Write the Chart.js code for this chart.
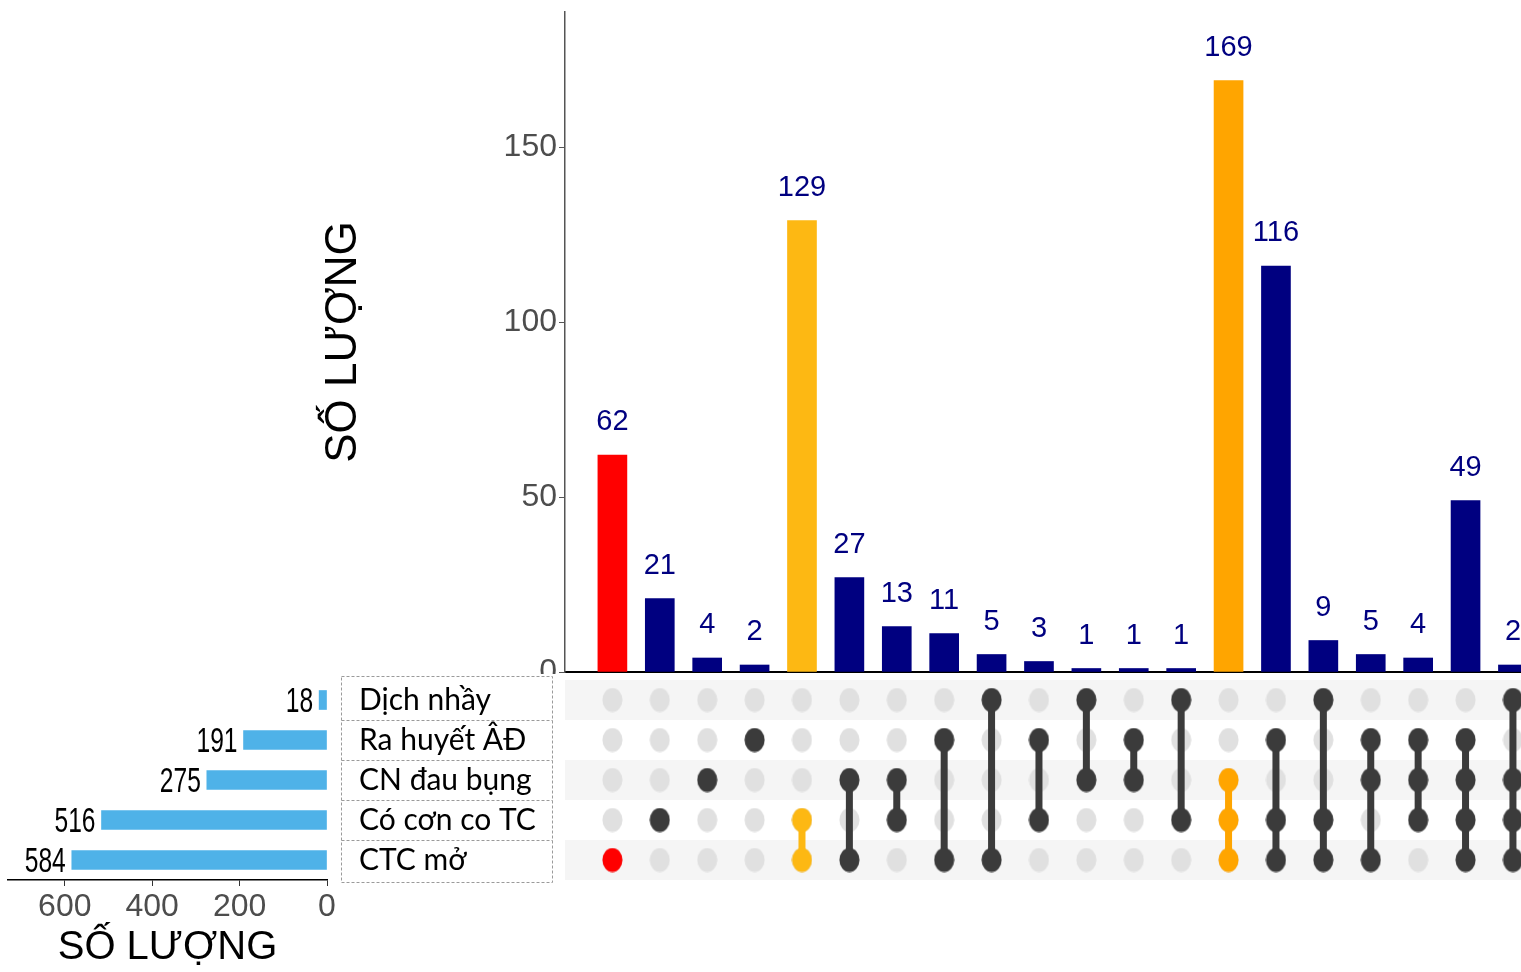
<!DOCTYPE html>
<html>
<head>
<meta charset="utf-8">
<script src="https://cdn.jsdelivr.net/npm/chart.js@4.4.1/dist/chart.umd.min.js"></script>
<style>
  body { margin: 0; background: #fff; width: 1521px; height: 972px; overflow: hidden; position: relative; }
  canvas { position: absolute; }
</style>
</head>
<body>
<canvas id="top" width="1221" height="674" style="left:300px;top:0"></canvas>
<canvas id="matrix" width="956" height="210" style="left:565px;top:676px"></canvas>
<canvas id="sets" width="560" height="296" style="left:0;top:676px"></canvas>
<script>
// sets (rows of the matrix, top to bottom)
const setNames = ['Dịch nhầy', 'Ra huyết ÂĐ', 'CN đau bụng', 'Có cơn co TC', 'CTC mở'];
const setSizes = [18, 191, 275, 516, 584];

// intersections, left to right
const interCounts = [62, 21, 4, 2, 129, 27, 13, 11, 5, 3, 1, 1, 1, 169, 116, 9, 5, 4, 49, 2];
const interMembers = [
  [4], [3], [2], [1], [3, 4], [2, 4], [2, 3], [1, 4], [0, 4], [1, 3],
  [0, 2], [1, 2], [0, 3], [2, 3, 4], [1, 3, 4], [0, 3, 4], [1, 2, 4], [1, 2, 3], [1, 2, 3, 4], [0, 2, 3, 4]
];
const highlight = {0: '#FF0000', 4: '#FDB813', 13: '#FFA500'};

const yTicksTop = [0, 50, 100, 150];
const xTicksSets = [0, 200, 400, 600];

const NAVY = '#000080';
const DARK = '#3B3B3B';
const GRAY_DOT = '#E0E0E0';
const ARIAL = "'Liberation Sans', Arial, sans-serif";

const barColors = interCounts.map((v, i) => highlight[i] || NAVY);
const dotColors = interCounts.map((v, i) => highlight[i] || DARK);

// ---- top: intersection sizes ----
const barLabels = {
  id: 'barLabels',
  afterDatasetsDraw(chart) {
    const ctx = chart.ctx;
    ctx.save();
    ctx.font = '29px ' + ARIAL;
    ctx.fillStyle = NAVY;
    ctx.textAlign = 'center';
    ctx.textBaseline = 'alphabetic';
    chart.getDatasetMeta(0).data.forEach((bar, i) => {
      ctx.fillText(String(interCounts[i]), bar.x, bar.y - 25);
    });
    ctx.restore();
  }
};

new Chart(document.getElementById('top'), {
  type: 'bar',
  data: {
    datasets: [{
      data: interCounts.map((v, i) => ({x: i + 1, y: v})),
      backgroundColor: barColors,
      barThickness: 29
    }]
  },
  options: {
    responsive: false,
    animation: false,
    events: [],
    layout: {padding: {top: 12, left: 0, right: 0, bottom: 0}, autoPadding: false},
    plugins: {legend: {display: false}, tooltip: {enabled: false}},
    scales: {
      x: {
        type: 'linear', min: 0, max: 20.17, offset: false,
        ticks: {display: false},
        grid: {display: false, offset: false},
        border: {color: '#000', width: 2},
        afterFit(s) { s.height = 2; s.paddingLeft = 0; s.paddingRight = 0; }
      },
      y: {
        min: 0, max: 188.6,
        ticks: {stepSize: 50, includeBounds: false, color: '#4D4D4D', font: {family: ARIAL, size: 32}, padding: 2, autoSkip: false},
        afterBuildTicks(s) { s.ticks = s.ticks.filter(t => yTicksTop.includes(t.value)); },
        grid: {drawOnChartArea: false, tickLength: 6, color: '#555'},
        border: {color: '#555', width: 1.5},
        title: {display: true, text: 'SỐ LƯỢNG', color: '#000', font: {family: ARIAL, size: 44}, padding: {top: 17, bottom: 0}},
        afterFit(s) { s.width = 265; s.paddingTop = 0; s.paddingBottom = 0; }
      }
    }
  },
  plugins: [barLabels]
});

// ---- matrix ----
function ellipse(color) {
  const c = document.createElement('canvas');
  c.width = 21; c.height = 25;
  const g = c.getContext('2d');
  g.fillStyle = color;
  g.beginPath();
  g.ellipse(10.5, 12.5, 10, 12, 0, 0, Math.PI * 2);
  g.fill();
  return c;
}
const grayImg = ellipse(GRAY_DOT);
const dotImgs = dotColors.map(c => ellipse(c));

const grayPts = [];
interCounts.forEach((v, i) => setNames.forEach((n, r) => grayPts.push({x: i + 1, y: r})));
const memberPts = [], memberStyles = [];
interMembers.forEach((m, i) => m.forEach(r => {
  memberPts.push({x: i + 1, y: r});
  memberStyles.push(dotImgs[i]);
}));
const lineSets = [];
interMembers.forEach((m, i) => {
  if (m.length < 2) return;
  lineSets.push({
    data: [{x: i + 1, y: Math.min(...m)}, {x: i + 1, y: Math.max(...m)}],
    showLine: true, borderColor: dotColors[i], borderWidth: 7, pointRadius: 0
  });
});

const bands = {
  id: 'bands',
  beforeDatasetsDraw(chart) {
    const {ctx, chartArea, scales: {y}} = chart;
    ctx.save();
    ctx.fillStyle = '#F5F5F5';
    setNames.forEach((n, r) => {
      if (r % 2) return;
      const t = y.getPixelForValue(r - 0.5), b = y.getPixelForValue(r + 0.5);
      ctx.fillRect(chartArea.left, t, chartArea.right - chartArea.left, b - t);
    });
    ctx.restore();
  }
};

new Chart(document.getElementById('matrix'), {
  type: 'scatter',
  data: {
    datasets: [
      {data: memberPts, pointStyle: memberStyles, pointRadius: 10},
      ...lineSets,
      {data: grayPts, pointStyle: grayImg, pointRadius: 10}
    ]
  },
  options: {
    responsive: false,
    animation: false,
    events: [],
    layout: {padding: {top: 4, bottom: 6, left: 0, right: 0}, autoPadding: false},
    plugins: {legend: {display: false}, tooltip: {enabled: false}},
    scales: {
      x: {type: 'linear', min: 0, max: 20.17, display: false},
      y: {type: 'linear', min: -0.5, max: 4.5, reverse: true, display: false}
    }
  },
  plugins: [bands]
});

// ---- left: set sizes ----
const setExtras = {
  id: 'setExtras',
  afterDatasetsDraw(chart) {
    const {ctx, scales: {y}} = chart;
    ctx.save();
    ctx.font = '30px ' + ARIAL;
    ctx.fillStyle = '#000';
    ctx.textAlign = 'right';
    ctx.textBaseline = 'middle';
    chart.getDatasetMeta(0).data.forEach((bar, i) => {
      // narrow look of the original labels
      ctx.save();
      ctx.translate(bar.x - 6, bar.y + 2);
      ctx.scale(0.82, 1.15);
      ctx.fillText(String(setSizes[i]), 0, 0);
      ctx.restore();
    });
    // dashed label box
    const half = (y.getPixelForValue(1) - y.getPixelForValue(0)) / 2;
    const x0 = y.left + 14.5, x1 = y.right - 0.5;
    ctx.strokeStyle = '#9A9A9A';
    ctx.lineWidth = 1;
    ctx.setLineDash([3, 2]);
    const top = y.getPixelForValue(0) - half - 3.5;
    const bot = y.getPixelForValue(setNames.length - 1) + half + 2.5;
    ctx.strokeRect(x0, top, x1 - x0, bot - top);
    for (let r = 1; r < setNames.length; r++) {
      const yy = Math.round(y.getPixelForValue(r) - half) + 0.5;
      ctx.beginPath(); ctx.moveTo(x0, yy); ctx.lineTo(x1, yy); ctx.stroke();
    }
    ctx.restore();
  }
};

new Chart(document.getElementById('sets'), {
  type: 'bar',
  data: {
    labels: setNames,
    datasets: [{data: setSizes, backgroundColor: '#4FB2E8', barThickness: 19}]
  },
  options: {
    indexAxis: 'y',
    responsive: false,
    animation: false,
    events: [],
    layout: {padding: {top: 4, left: 8, right: 7, bottom: 0}},
    plugins: {legend: {display: false}, tooltip: {enabled: false}},
    scales: {
      x: {
        min: 0, max: 730, reverse: true,
        ticks: {stepSize: 200, includeBounds: false, color: '#4D4D4D', font: {family: ARIAL, size: 32}, padding: 2, autoSkip: false, maxRotation: 0},
        afterBuildTicks(s) { s.ticks = s.ticks.filter(t => xTicksSets.includes(t.value)); },
        grid: {drawOnChartArea: false, tickLength: 6, color: '#333'},
        border: {color: '#000', width: 1.5},
        title: {display: true, text: 'SỐ LƯỢNG', color: '#000', font: {family: ARIAL, size: 40, lineHeight: 1}, padding: {top: 0, bottom: 4}},
        afterFit(s) { s.height = 92; s.paddingLeft = 0; s.paddingRight = 0; }
      },
      y: {
        position: 'right',
        ticks: {color: '#000', font: {family: "Lato, 'Noto Sans', sans-serif", size: 30}, padding: 24},
        grid: {display: false},
        border: {display: false},
        afterFit(s) { s.width = 226; s.paddingTop = 0; s.paddingBottom = 0; }
      }
    }
  },
  plugins: [setExtras]
});
</script>
</body>
</html>
